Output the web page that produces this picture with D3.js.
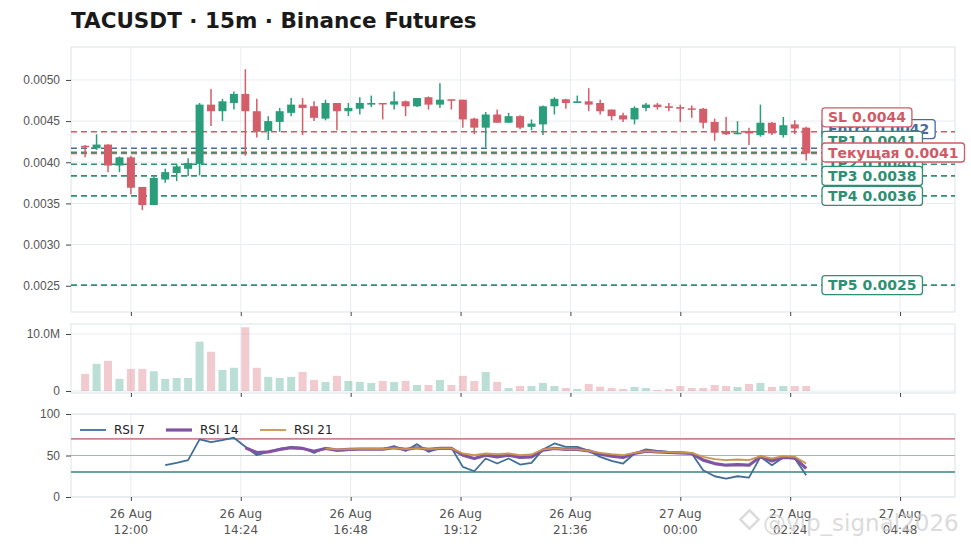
<!DOCTYPE html>
<meta charset="utf-8">
<style>
  body { margin: 0; background: #fff; }
  svg { font-family: "DejaVu Sans", sans-serif; }
  .tick text { fill: #555; font-size: 12px; }
  .tick line { stroke: #444; }
  .frame { fill: none; stroke: #dde3e6; stroke-width: 1; }
  .grid line { stroke: #e8edf0; stroke-width: 1; }
</style>
<script src="https://d3js.org/d3.v7.min.js"></script>
<body>
<script>

// 15m candles from 26 Aug 11:00 (UTC)
var startTime = "2025-08-26T11:00:00Z";
var opens  = [0.00420,0.00417,0.004215,0.00396,0.00406,0.00370,0.00348,0.00379,0.00387,0.00392,
              0.00398,0.00470,0.00462,0.00472,0.00483,0.00462,0.00438,0.00449,0.00460,0.00470,
              0.00468,0.00453,0.00472,0.00462,0.00465,0.00470,0.00472,0.00470,0.00474,0.00468,
              0.00479,0.00470,0.004765,0.00476,0.00453,0.00442,0.00458,0.00448,0.00456,0.00443,
              0.00446,0.00468,0.004765,0.00472,0.00474,0.00472,0.00464,0.00457,0.00452,0.00466,
              0.00470,0.00468,0.00467,0.004655,0.00465,0.00449,0.00438,0.00434,0.00438,0.00433,
              0.00448,0.00433,0.00446,0.00442];
var highs  = [0.00421,0.00434,0.00422,0.00407,0.00408,0.00370,0.00383,0.00392,0.00398,0.00405,
              0.00472,0.00489,0.00477,0.00486,0.00513,0.00477,0.00456,0.00466,0.00478,0.00478,
              0.00474,0.00476,0.00472,0.00472,0.00479,0.00481,0.00472,0.00486,0.00475,0.00478,
              0.00480,0.00496,0.004765,0.00476,0.00454,0.00461,0.00464,0.00460,0.00457,0.00452,
              0.00469,0.00479,0.00477,0.00481,0.00490,0.00476,0.00464,0.00460,0.00468,0.00472,
              0.00472,0.00472,0.00470,0.00469,0.00466,0.00453,0.00455,0.00450,0.00442,0.00470,
              0.00449,0.00455,0.00451,0.00443];
var lows   = [0.00406,0.00415,0.00388,0.00388,0.00361,0.00342,0.00348,0.00375,0.00377,0.00383,
              0.00384,0.00444,0.00450,0.00464,0.00408,0.00430,0.00427,0.00437,0.00456,0.00433,
              0.00450,0.00451,0.00439,0.00456,0.00458,0.00467,0.00452,0.00464,0.00456,0.00467,
              0.00464,0.00466,0.00464,0.00442,0.00434,0.00418,0.00448,0.00448,0.00440,0.00439,
              0.00433,0.00458,0.00465,0.00472,0.00462,0.00458,0.00451,0.00449,0.00446,0.00462,
              0.00464,0.00462,0.00449,0.00454,0.00441,0.00426,0.00433,0.00434,0.00421,0.00431,
              0.00433,0.00430,0.00434,0.00402];
var closes = [0.00419,0.004215,0.00396,0.00406,0.00369,0.00348,0.00381,0.00388,0.00395,0.00399,
              0.00470,0.00462,0.00474,0.00483,0.00462,0.00437,0.00450,0.00462,0.00470,0.00466,
              0.00454,0.00472,0.00462,0.00466,0.00472,0.00472,0.00471,0.00474,0.00468,0.00478,
              0.00470,0.00476,0.00475,0.00452,0.00442,0.00458,0.00448,0.00456,0.00442,0.00447,
              0.00468,0.00477,0.00472,0.00474,0.00470,0.00462,0.00456,0.00452,0.00466,0.00470,
              0.00467,0.00466,0.00465,0.00464,0.00448,0.00436,0.00434,0.00436,0.00435,0.00448,
              0.00435,0.00445,0.00441,0.004106];
var volumes = [3.0,4.76,5.29,2.12,3.88,3.88,3.47,2.12,2.29,2.29,
               8.65,6.88,3.7,4.06,11.18,4.06,2.47,2.29,2.47,3.35,
               1.94,1.59,2.65,1.76,1.59,1.41,1.76,1.59,1.76,1.06,
               1.06,1.94,1.06,2.65,1.76,3.35,1.59,0.53,0.88,0.88,
               1.41,0.88,0.53,0.35,1.24,0.76,0.53,0.35,0.7,0.53,
               0.18,0.35,0.88,0.53,0.53,1.06,0.88,0.7,1.24,1.41,
               0.7,0.88,0.88,0.88]; // millions

var rsi7 = [null,null,null,null,null,null,null,38.3,41,44.4,
            69.4,66.1,68.5,71.4,60.5,50.4,54.4,58,60.5,59.3,
            53.2,59.3,55.6,56.5,57.7,57.7,57.7,61.3,55.6,63.7,
            54.4,59.3,59.3,36.3,31,46.4,40.3,46.4,39.1,41.1,
            57.3,64.5,60.5,60.5,55.6,48.4,43.5,40.3,52.4,57.3,
            55.6,54.4,53.6,52.4,32.3,25,22.2,25,23.4,48.4,
            38.3,47.6,46.4,26.2];
var rsi14 = [null,null,null,null,null,null,null,null,null,null,
             null,null,null,null,59.3,53.6,54.4,57.3,59.3,58.5,
             55.2,58.5,56.5,57.3,57.7,57.7,57.7,59.3,57.3,59.3,
             57.3,58.5,58.5,50.4,46.4,50.4,48.4,50.4,47.6,48.4,
             56.5,58.5,57.3,57.3,55.6,51.6,49.2,47.6,52.4,55.2,
             54.4,53.6,53.2,52.4,44.4,40.3,38.3,39.1,38.3,48.4,
             43.5,47.6,47.2,34.3];
var rsi21 = [null,null,null,null,null,null,null,null,null,null,
             null,null,null,null,null,null,null,null,null,null,
             null,58.5,57.3,57.7,58.1,58.1,58.1,58.9,57.7,58.9,
             57.7,58.5,58.5,52.4,50.4,52.4,51.6,52.4,50.4,51.2,
             57.3,58.5,57.3,57.3,55.6,53.2,51.6,50.4,53.2,55.2,
             54.4,54,53.6,53.2,48.4,45.6,44.4,45.2,44.4,49.2,
             46.4,49.2,48.4,40.3];

var levelNames  = ["Entry","TP1","TP2","TP3","TP4","TP5","SL","Текущая"];
var levelPrices = [0.00417,0.00412,0.003976,0.003834,0.003591,0.002507,0.00437,0.004106];
var levelKinds  = ["entry","tp","tp","tp","tp","tp","sl","sl"];

var priceTicks = [0.0025,0.0030,0.0035,0.0040,0.0045,0.0050];
var volTicks = [0, 10];
var rsiTicks = [0, 50, 100];
var timeTicks = ["2025-08-26T12:00:00Z","2025-08-26T14:24:00Z","2025-08-26T16:48:00Z","2025-08-26T19:12:00Z",
                 "2025-08-26T21:36:00Z","2025-08-27T00:00:00Z","2025-08-27T02:24:00Z","2025-08-27T04:48:00Z"];
var timeTickLabels = [["26 Aug","12:00"],["26 Aug","14:24"],["26 Aug","16:48"],["26 Aug","19:12"],
                      ["26 Aug","21:36"],["27 Aug","00:00"],["27 Aug","02:24"],["27 Aug","04:48"]];

var UP = "#2a9d7b", DOWN = "#d45d6a";
var kindColor = {sl: "#d05a66", entry: "#4a6a9a", tp: "#2e8f72"};

var W = 971, H = 548;
var L = 71, R = 955;
var pTop = 47, pBot = 312, vTop = 324, vBot = 393, rTop = 414, rBot = 497;

var svg = d3.select("body").append("svg").attr("width", W).attr("height", H);

var t0 = new Date(startTime).getTime();
var times = opens.map(function(d, i){ return new Date(t0 + i * 15 * 60000); });
var candles = opens.map(function(d, i){
  return {t: times[i], o: opens[i], h: highs[i], l: lows[i], c: closes[i], v: volumes[i]};
});

var x = d3.scaleUtc()
  .domain([new Date("2025-08-26T10:41:30Z"), new Date("2025-08-27T06:00:00Z")])
  .range([L, R]);
var step = x(times[1]) - x(times[0]);
var bw = step * 0.7;

var yP = d3.scaleLinear().domain([0.002181, 0.0054]).range([pBot, pTop]);
var yV = d3.scaleLinear().domain([-0.35, 11.75]).range([vBot, vTop]);
var yR = d3.scaleLinear().domain([0, 100]).range([rBot, rTop]);

var tickDates = timeTicks.map(function(s){ return new Date(s); });

function panel(top, bot, yScale, yTicks, yFmt) {
  var g = svg.append("g");
  // grid
  var grid = g.append("g").attr("class", "grid");
  grid.selectAll(".vx").data(tickDates).enter().append("line")
    .attr("x1", function(d){ return x(d); }).attr("x2", function(d){ return x(d); })
    .attr("y1", top).attr("y2", bot);
  grid.selectAll(".hy").data(yTicks).enter().append("line")
    .attr("x1", L).attr("x2", R)
    .attr("y1", function(d){ return yScale(d); }).attr("y2", function(d){ return yScale(d); });
  g.append("rect").attr("class", "frame")
    .attr("x", L).attr("y", top).attr("width", R - L).attr("height", bot - top);
  var ya = g.append("g").attr("transform", "translate(" + L + ",0)")
    .call(d3.axisLeft(yScale).tickValues(yTicks).tickFormat(yFmt).tickSize(5).tickPadding(6));
  ya.select(".domain").remove();
  var xa = g.append("g").attr("transform", "translate(0," + bot + ")")
    .call(d3.axisBottom(x).tickValues(tickDates).tickFormat("").tickSize(4));
  xa.select(".domain").remove();
  return g;
}

panel(pTop, pBot, yP, priceTicks, d3.format(".4f"));
panel(vTop, vBot, yV, volTicks, function(d){ return d === 0 ? "0" : d.toFixed(1) + "M"; });
panel(rTop, rBot, yR, rsiTicks, d3.format("d"));

// title
svg.append("text").attr("x", 71).attr("y", 28)
  .style("font-size", "21.5px").style("font-weight", "bold").style("fill", "#1a1a1a")
  .text("TACUSDT · 15m · Binance Futures");

// level lines
var levels = levelNames.map(function(n, i){
  return {name: n, price: levelPrices[i], color: kindColor[levelKinds[i]]};
});
var pClip = svg.append("clipPath").attr("id", "pclip").append("rect")
  .attr("x", L).attr("y", pTop).attr("width", R - L).attr("height", pBot - pTop);

svg.append("g").selectAll("line").data(levels).enter().append("line")
  .attr("x1", L).attr("x2", R)
  .attr("y1", function(d){ return yP(d.price); }).attr("y2", function(d){ return yP(d.price); })
  .style("stroke", function(d){ return d.color; })
  .style("stroke-width", 1.6).style("stroke-dasharray", "6,4");

// candles
var cg = svg.append("g").attr("clip-path", "url(#pclip)");
cg.selectAll(".wick").data(candles).enter().append("line")
  .attr("x1", function(d){ return x(d.t); }).attr("x2", function(d){ return x(d.t); })
  .attr("y1", function(d){ return yP(d.h); }).attr("y2", function(d){ return yP(d.l); })
  .style("stroke", function(d){ return d.c >= d.o ? UP : DOWN; })
  .style("stroke-width", 1.5);
cg.selectAll(".body").data(candles).enter().append("rect")
  .attr("x", function(d){ return x(d.t) - bw / 2; })
  .attr("width", bw)
  .attr("y", function(d){ return yP(Math.max(d.o, d.c)); })
  .attr("height", function(d){ return Math.max(1.5, Math.abs(yP(d.o) - yP(d.c))); })
  .style("fill", function(d){ return d.c >= d.o ? UP : DOWN; });

// level labels, pushed up so they do not overlap
var sorted = levels.slice().sort(function(a, b){ return a.price - b.price; });
var prevY = Infinity;
sorted.forEach(function(d){
  d.ly = Math.min(yP(d.price), prevY - 11.7);
  prevY = d.ly;
});
var lg = svg.append("g");
levels.forEach(function(d){
  var g = lg.append("g").attr("transform", "translate(822," + d.ly + ")");
  var box = g.append("rect");
  var txt = g.append("text").attr("x", 6).attr("y", 0).attr("dy", "0.36em")
    .style("font-size", "14px").style("font-weight", "bold").style("fill", d.color)
    .text(d.name + " " + d.price.toFixed(4));
  var w = txt.node().getComputedTextLength();
  box.attr("x", 0).attr("y", -9.5).attr("width", w + 12).attr("height", 19).attr("rx", 3)
    .style("fill", "white").style("stroke", d.color).style("stroke-width", 1.3);
});

// volume bars
svg.append("g").selectAll("rect").data(candles).enter().append("rect")
  .attr("x", function(d){ return x(d.t) - bw / 2; })
  .attr("width", bw)
  .attr("y", function(d){ return yV(d.v); })
  .attr("height", function(d){ return yV(0) - yV(d.v); })
  .style("fill", function(d){ return d.c >= d.o ? UP : DOWN; })
  .style("opacity", 0.32);

// RSI guide lines
var guides = [{v: 70, c: "#c9848c", w: 1.6}, {v: 50, c: "#a3b8b8", w: 1.2}, {v: 30, c: "#6aa3a0", w: 2}];
svg.append("g").selectAll("line").data(guides).enter().append("line")
  .attr("x1", L).attr("x2", R)
  .attr("y1", function(d){ return yR(d.v); }).attr("y2", function(d){ return yR(d.v); })
  .style("stroke", function(d){ return d.c; }).style("stroke-width", function(d){ return d.w; });

var rsiSeries = [
  {name: "RSI 7", vals: rsi7, color: "#3f6f98", w: 1.8},
  {name: "RSI 14", vals: rsi14, color: "#8154a3", w: 3.2},
  {name: "RSI 21", vals: rsi21, color: "#c9944e", w: 1.8}
];
var line = d3.line()
  .defined(function(d){ return d.v != null; })
  .x(function(d){ return x(d.t); })
  .y(function(d){ return yR(d.v); });
rsiSeries.forEach(function(s){
  var pts = s.vals.map(function(v, i){ return {t: times[i], v: v}; });
  svg.append("path").attr("d", line(pts))
    .style("fill", "none").style("stroke", s.color).style("stroke-width", s.w)
    .style("stroke-linejoin", "round");
});

// legend
var legX = [80, 166, 260];
rsiSeries.forEach(function(s, i){
  svg.append("line").attr("x1", legX[i]).attr("x2", legX[i] + 26).attr("y1", 430).attr("y2", 430)
    .style("stroke", s.color).style("stroke-width", s.w);
  svg.append("text").attr("x", legX[i] + 34).attr("y", 430).attr("dy", "0.36em")
    .style("font-size", "12px").style("fill", "#222").text(s.name);
});

// x tick labels under RSI panel
var xl = svg.append("g");
tickDates.forEach(function(d, i){
  var t = xl.append("text").attr("x", x(d)).attr("y", 514)
    .style("text-anchor", "middle").style("font-size", "12px").style("fill", "#555");
  t.append("tspan").attr("x", x(d)).attr("dy", "0.35em").text(timeTickLabels[i][0]);
  t.append("tspan").attr("x", x(d)).attr("dy", "1.3em").text(timeTickLabels[i][1]);
});

// watermark
var wm = svg.append("g").style("opacity", 0.75);
wm.append("rect").attr("x", 743).attr("y", 513).attr("width", 13).attr("height", 13)
  .attr("transform", "rotate(45 749.5 519.5)")
  .style("fill", "none").style("stroke", "#d0d0d0").style("stroke-width", 2.5);
wm.append("text").attr("x", 763).attr("y", 531)
  .style("font-size", "23px").style("fill", "#d0d0d0")
  .text("@vip_signal2026");

</script>
</body>
